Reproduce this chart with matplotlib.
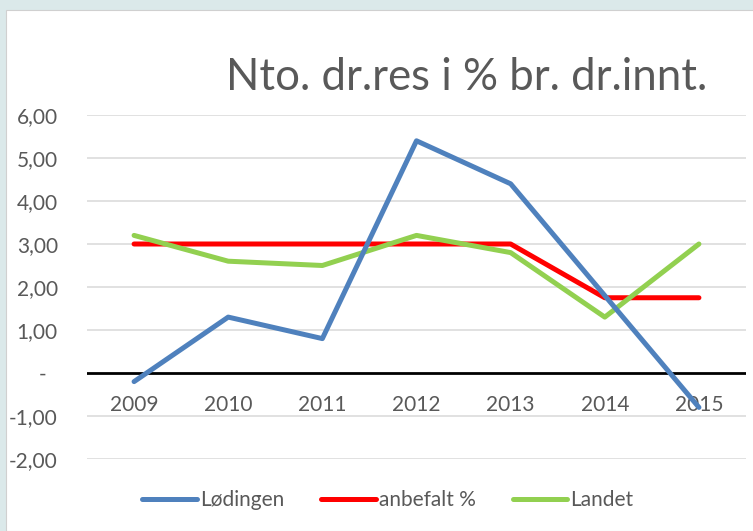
import numpy as np
import matplotlib.pyplot as plt
from matplotlib.patches import Rectangle
from matplotlib.ticker import FixedLocator, FuncFormatter

plt.rcParams['font.family'] = ['Lato', 'DejaVu Sans']

years = ['2009', '2010', '2011', '2012', '2013', '2014', '2015']
lodingen = [-0.2, 1.3, 0.8, 5.4, 4.4, 1.8, -0.8]
anbefalt = [3.0, 3.0, 3.0, 3.0, 3.0, 1.75, 1.75]
landet = [3.2, 2.6, 2.5, 3.2, 2.8, 1.3, 3.0]

text_grey = '#595959'
fs = 15


def fmt_value(v, pos):
    if abs(v) < 1e-9:
        return '-  '
    return '{:.2f}'.format(v).replace('.', ',')


fig = plt.figure(figsize=(7.53, 5.31), dpi=100, facecolor='#dbe9ea')
# white chart area inside the pale frame
fig.patches.append(Rectangle((6 / 753, 0), 1, 1 - 10 / 531, transform=fig.transFigure,
                             facecolor='white', edgecolor='#d0d0d0', lw=0.8, zorder=-5))

ax = fig.add_axes([87 / 753, 72 / 531, 659 / 753, 344 / 531])
ax.set_facecolor('none')

x = np.arange(len(years))
ax.plot(x, lodingen, color='#4f81bd', lw=3.6, solid_capstyle='round', solid_joinstyle='round',
        label='Lødingen', zorder=4)
ax.plot(x, anbefalt, color='#ff0000', lw=3.6, solid_capstyle='round', solid_joinstyle='round',
        label='anbefalt %', zorder=3)
ax.plot(x, landet, color='#92d050', lw=3.6, solid_capstyle='round', solid_joinstyle='round',
        label='Landet', zorder=3)

ax.set_xlim(-0.5, len(years) - 0.5)
ax.set_ylim(-2, 6)

yt = np.arange(-2, 7, 1)
for v in yt:
    if v != 0:
        ax.axhline(v, color='#d9d9d9', lw=1.1, zorder=1)
ax.axhline(0, color='black', lw=2.0, zorder=2)

for s in ax.spines.values():
    s.set_visible(False)

ax.yaxis.set_major_locator(FixedLocator(yt))
ax.yaxis.set_major_formatter(FuncFormatter(fmt_value))
ax.tick_params(axis='y', length=0, pad=21, labelsize=fs, labelcolor=text_grey)

ax.set_xticks([])
for i, yr in enumerate(years):
    ax.annotate(yr, (i, 0), xytext=(0, -22), textcoords='offset pixels',
                ha='center', va='top', fontsize=fs, color=text_grey)

fig.text(467 / 753, 1 - 78 / 531, 'Nto. dr.res i % br. dr.innt.', ha='center', va='center',
         fontsize=31.5, color=text_grey)

fig.legend(loc='center', bbox_to_anchor=(388 / 753, 1 - 500 / 531), ncol=3, frameon=False,
           fontsize=fs, labelcolor=text_grey, handlelength=2.6, handletextpad=0.15,
           columnspacing=1.8)

fig.savefig('out.png', dpi=100, facecolor=fig.get_facecolor())
